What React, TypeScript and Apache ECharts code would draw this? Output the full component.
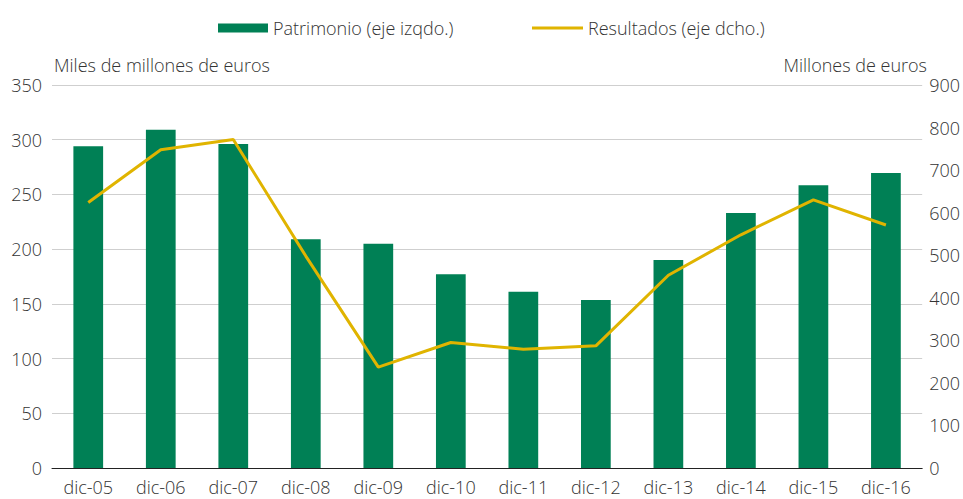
import React, { useEffect, useRef } from "react";
import * as echarts from "echarts";

const categories = ["dic-05","dic-06","dic-07","dic-08","dic-09","dic-10","dic-11","dic-12","dic-13","dic-14","dic-15","dic-16"];
const patrimonio = [294, 309, 296, 209, 205, 177, 161, 153.5, 190, 233, 258.5, 269.5];
const resultados = [624, 748, 772, 498, 237, 295, 279, 287, 453, 548, 630, 571];
const leftTicks = { min: 0, max: 350, interval: 50 };
const rightTicks = { min: 0, max: 900, interval: 100 };

const FONT = "'Open Sans', sans-serif";
const TXT = "#333333";
const GREEN = "#008055";
const GOLD = "#E0B400";

export default function App() {
  const ref = useRef<HTMLDivElement>(null);
  useEffect(() => {
    if (!ref.current) return;
    const chart = echarts.init(ref.current, null, { renderer: "svg" });
    const lbl = { fontFamily: FONT, fontSize: 18, color: TXT, fontWeight: 300 };
    chart.setOption({
      animation: false,
      textStyle: { fontFamily: FONT },
      legend: [
        {
          left: 213,
          top: 14,
          itemWidth: 50,
          itemHeight: 9,
          textStyle: { ...lbl },
          data: [{ name: "Patrimonio (eje izqdo.)", icon: "rect" }],
        },
        {
          left: 527,
          top: 14,
          itemWidth: 51,
          itemHeight: 3,
          textStyle: { ...lbl },
          data: [{ name: "Resultados (eje dcho.)", icon: "rect" }],
        },
      ],
      graphic: [
        { type: "text", left: 54, top: 56, style: { text: "Miles de millones de euros", font: `300 18px ${FONT}`, fill: TXT } },
        { type: "text", right: 36, top: 56, style: { text: "Millones de euros", font: `300 18px ${FONT}`, fill: TXT } },
      ],
      grid: { left: 52, right: 40, top: 85, bottom: 31 },
      xAxis: {
        type: "category",
        data: categories,
        axisLine: { lineStyle: { color: "#222", width: 1 } },
        axisTick: { show: false },
        axisLabel: { ...lbl, margin: 10 },
      },
      yAxis: [
        {
          type: "value",
          ...leftTicks,
          axisLine: { show: false },
          axisTick: { show: false },
          splitLine: { lineStyle: { color: "#cfcfcf", width: 1 } },
          axisLabel: { ...lbl, margin: 10 },
        },
        {
          type: "value",
          ...rightTicks,
          axisLine: { show: false },
          axisTick: { show: false },
          splitLine: { show: false },
          axisLabel: { ...lbl, margin: 7 },
        },
      ],
      series: [
        {
          name: "Patrimonio (eje izqdo.)",
          type: "bar",
          data: patrimonio,
          yAxisIndex: 0,
          barWidth: "41%",
          itemStyle: { color: GREEN },
        },
        {
          name: "Resultados (eje dcho.)",
          type: "line",
          data: resultados,
          yAxisIndex: 1,
          symbol: "none",
          lineStyle: { color: GOLD, width: 3 },
          itemStyle: { color: GOLD },
          z: 3,
        },
      ],
    });
    return () => chart.dispose();
  }, []);
  return <div ref={ref} style={{ position: "absolute", left: 0, top: 0, width: 963, height: 499 }} />;
}
